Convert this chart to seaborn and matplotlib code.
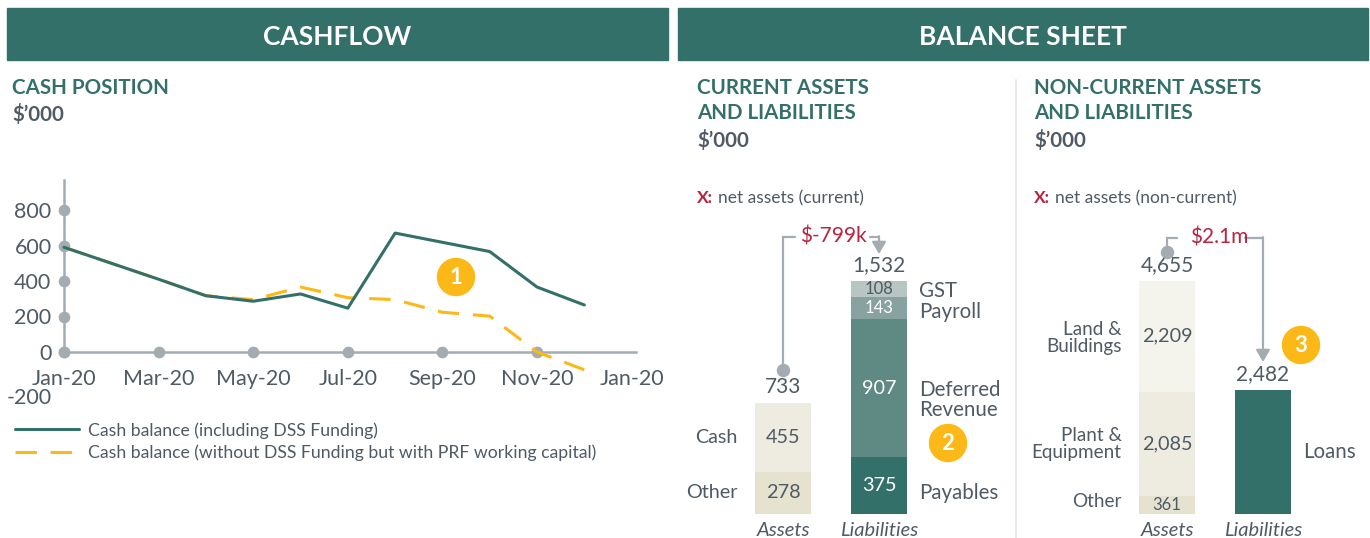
import numpy as np
import pandas as pd
import matplotlib
matplotlib.use("Agg")
import matplotlib.pyplot as plt
import seaborn as sns
from matplotlib.patches import Rectangle, Ellipse
from matplotlib.lines import Line2D

# ---- data ($'000) ----
months = ["Jan-20", "Feb-20", "Mar-20", "Apr-20", "May-20", "Jun-20",
          "Jul-20", "Aug-20", "Sep-20", "Oct-20", "Nov-20", "Dec-20"]
cash_incl_dss = [590, 500, 410, 317, 286, 327, 247, 670, 618, 566, 366, 265]
cash_excl_dss = [590, 500, 410, 317, 295, 366, 306, 295, 224, 202, 0, -100]
x_tick_labels = ["Jan-20", "Mar-20", "May-20", "Jul-20", "Sep-20", "Nov-20", "Jan-20"]
y_ticks = [-200, 0, 200, 400, 600, 800]
series_names = ["Cash balance (including DSS Funding)",
                "Cash balance (without DSS Funding but with PRF working capital)"]

cur_asset_items = ["Other", "Cash"]
cur_asset_vals = [278, 455]
cur_liab_items = ["Payables", "Deferred\nRevenue", "Payroll", "GST"]
cur_liab_vals = [375, 907, 143, 108]
cur_totals = [733, 1532]  # as reported (rounded)
cur_net = "$-799k"

nc_asset_items = ["Other", "Plant &\nEquipment", "Land &\nBuildings"]
nc_asset_vals = [361, 2085, 2209]
nc_liab_items = ["Loans"]
nc_liab_vals = [2482]
nc_totals = [4655, 2482]
nc_net = "$2.1m"

# ---- style ----
TEAL = "#33706A"
YELLOW = "#FBB817"
RED = "#B8233F"
TXT = "#4F5A65"
AXG = "#A3ADB1"

sns.set_theme(style="white")
plt.rcParams["font.family"] = ["Lato", "DejaVu Sans"]

W, H = 1370, 538
fig = plt.figure(figsize=(W / 100, H / 100), dpi=100)


def fx(px):
    return px / W


def fy(py):
    return 1 - py / H


# header bars
for x0, x1, title in [(7, 668, "CASHFLOW"), (678, 1368, "BALANCE SHEET")]:
    fig.patches.append(Rectangle((fx(x0), fy(60)), fx(x1 - x0), 52 / H,
                                 transform=fig.transFigure, color=TEAL, zorder=0))
    fig.text(fx((x0 + x1) / 2), fy(37), title, color="white", fontsize=19,
             fontweight="bold", ha="center", va="center")


def heading(x, lines, ys):
    for ln, y in zip(lines, ys):
        col = TXT if ln.startswith("$") else TEAL
        fig.text(fx(x), fy(y), ln, color=col, fontsize=14.8,
                 fontweight="bold", ha="left", va="center")


heading(12, ["CASH POSITION", "$\u2019000"], [88, 115])
heading(697, ["CURRENT ASSETS", "AND LIABILITIES", "$\u2019000"], [88, 113, 140])
heading(1034, ["NON-CURRENT ASSETS", "AND LIABILITIES", "$\u2019000"], [88, 113, 140])

for x, lab in [(697, "net assets (current)"), (1034, "net assets (non-current)")]:
    fig.text(fx(x), fy(198), "X:", color=RED, fontsize=12.5, fontweight="bold", va="center")
    fig.text(fx(x + 21), fy(198), lab, color=TXT, fontsize=12.5, va="center")

fig.add_artist(Line2D([fx(1016), fx(1016)], [fy(80), fy(538)], color="#E4E4E4", lw=1.2))

# ---- line chart ----
mpx, upx = 47.3, 35.5 / 200  # px per month, px per unit
ax = fig.add_axes([fx(64 - 0.5 * mpx), (538 - 352 - 300 * upx) / H,
                   13 * mpx / W, 1300 * upx / H])
df = pd.DataFrame({"m": np.arange(len(months)),
                   "incl": cash_incl_dss, "excl": cash_excl_dss})
sns.lineplot(data=df, x="m", y="excl", ax=ax, color=YELLOW, lw=2.2,
             linestyle=(0, (7, 4.5)), label=series_names[1], zorder=3)
sns.lineplot(data=df, x="m", y="incl", ax=ax, color=TEAL, lw=2.2,
             label=series_names[0], zorder=4)
ax.set_xlim(-0.5, 12.5)
ax.set_ylim(-300, 1000)
ax.set_xlabel("")
ax.set_ylabel("")
for s in ["top", "right"]:
    ax.spines[s].set_visible(False)
for s in ["left", "bottom"]:
    ax.spines[s].set_position(("data", 0))
    ax.spines[s].set_color(AXG)
    ax.spines[s].set_linewidth(1.8)
ax.spines["left"].set_bounds(0, 970)
ax.spines["bottom"].set_bounds(0, 12.1)
ax.set_xticks(np.arange(0, 13, 2))
ax.set_xticklabels(x_tick_labels)
ax.set_yticks(y_ticks)
ax.set_yticklabels([str(v) for v in y_ticks])
ax.get_yticklabels()[0].set_va("top")
ax.tick_params(length=0, labelsize=15.5, labelcolor=TXT)
ax.tick_params(axis="y", pad=9)
ax.tick_params(axis="x", pad=12)
ax.scatter([0] * 5, y_ticks[1:], s=55, color=AXG, zorder=2, clip_on=False)
ax.scatter(np.arange(0, 11, 2), [0] * 6, s=55, color=AXG, zorder=2, clip_on=False)
h, l = ax.get_legend_handles_labels()
ax.get_legend().remove()
fig.legend(h[::-1], l[::-1], loc="upper left", bbox_to_anchor=(fx(15), fy(422)),
           frameon=False, fontsize=12.7, labelcolor=TXT, handlelength=3.6,
           handletextpad=0.55, labelspacing=0.32, borderaxespad=0, borderpad=0)


# ---- balance sheet panels ----
def panel(cx, a_items, a_vals, a_cols, a_tcols, l_items, l_vals, l_cols, l_tcols,
          totals, net, bracket, small=(), left_fs=14.5, nudge=None):
    nudge = nudge or {}
    top = max(sum(a_vals), sum(l_vals))
    ppu = 233 / top
    axb = fig.add_axes([fx(cx - 48), 24 / H, 192 / W, 304 / H])
    axb.set_xlim(-0.5, 1.5)
    axb.set_ylim(0, 304 / ppu)
    axb.axis("off")
    bw = 56 / 96
    for xi, vals, items, cols, tcols, side, tot in [
            (0, a_vals, a_items, a_cols, a_tcols, "left", totals[0]),
            (1, l_vals, l_items, l_cols, l_tcols, "right", totals[1])]:
        bottom = 0
        for v, it, c, tc in zip(vals, items, cols, tcols):
            axb.bar(xi, v, bottom=bottom, width=bw, color=c, linewidth=0)
            mid = bottom + v / 2
            if len(vals) > 1:
                fs = 12 if v in small else 14.3
                axb.text(xi, mid, f"{v:,}", ha="center", va="center", color=tc,
                         fontsize=fs)
            ly = mid - nudge.get(it, 0) / ppu
            if side == "left":
                axb.text(xi - bw / 2 - 0.18, ly, it, ha="right", va="center",
                         color=TXT, fontsize=left_fs, linespacing=1.0)
            else:
                axb.text(xi + bw / 2 + 0.13, ly, it, ha="left",
                         va="center", color=TXT, fontsize=14.8, linespacing=1.0)
            bottom += v
        axb.text(xi, bottom + 6 / ppu, f"{tot:,}", ha="center", va="bottom",
                 color=TXT, fontsize=15)
    axb.text(0, -8 / ppu, "Assets", ha="center", va="top", color=TXT,
             fontsize=14.5, style="italic")
    axb.text(1, -8 / ppu, "Liabilities", ha="center", va="top", color=TXT,
             fontsize=14.5, style="italic")
    # net assets bracket
    dot, line, tip, gl, gr, tx = bracket
    axb.plot([0, 0, gl], [dot / ppu, line / ppu, line / ppu], color=AXG, lw=1.6,
             solid_joinstyle="miter", clip_on=False)
    axb.scatter([0], [dot / ppu], s=75, color=AXG, zorder=3, clip_on=False)
    axb.plot([gr, 1], [line / ppu, line / ppu], color=AXG, lw=1.6,
             solid_joinstyle="miter", clip_on=False)
    axb.annotate("", xy=(1, tip / ppu), xytext=(1, line / ppu + 0.8 / ppu),
                 arrowprops=dict(arrowstyle="-|>,head_length=0.6,head_width=0.35",
                                 color=AXG, lw=1.6, shrinkA=0, shrinkB=0))
    axb.text(tx, line / ppu, net, ha="center", va="center", color=RED, fontsize=15)
    return axb


cream = ["#E5E2CF", "#EEECE1", "#F4F3EC"]
panel(783, cur_asset_items, cur_asset_vals, cream[:2], [TXT, TXT],
      cur_liab_items, cur_liab_vals, [TEAL, "#5F8983", "#88A39F", "#B7C6C3"],
      ["white", "white", "white", TXT], cur_totals, cur_net,
      (144, 277, 260, 0.125, 0.906, 0.52), small=(108, 143), left_fs=14.2,
      nudge={"Payables": 7, "Deferred\nRevenue": 12, "Payroll": 4, "GST": 2})
panel(1167, nc_asset_items, nc_asset_vals, cream, [TXT, TXT, TXT],
      nc_liab_items, nc_liab_vals, [TEAL], ["white"], nc_totals, nc_net,
      (262, 276, 152, 0.1, 0.81, 0.54), small=(361,), left_fs=13.6,
      nudge={"Other": -3, "Land &\nBuildings": 2})

# numbered badges
for (bx, by), num in [((456, 277), "1"), ((948, 443), "2"), ((1301, 345), "3")]:
    fig.add_artist(Ellipse((fx(bx), fy(by)), 37 / W, 37 / H,
                           transform=fig.transFigure, color=YELLOW))
    fig.text(fx(bx), fy(by), num, color="white", fontsize=16, fontweight="bold",
             ha="center", va="center")

fig.savefig("out.png", dpi=100)
